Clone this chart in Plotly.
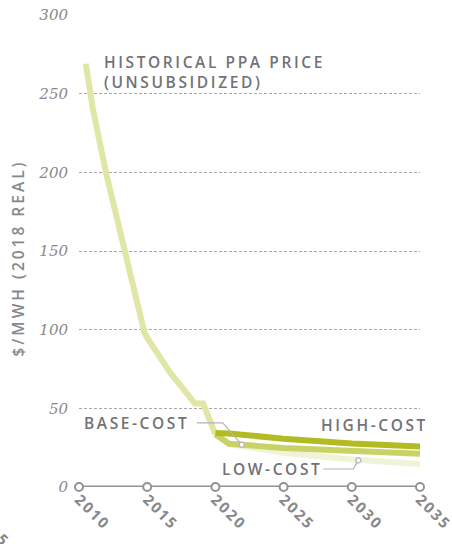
import plotly.graph_objects as go

# ---- data ----
hist_years = [2010.5, 2011, 2012, 2013, 2014, 2014.8, 2015.1, 2016.7, 2018.5, 2019.1, 2020]
hist_vals = [269, 241, 199, 162, 125, 98, 93.5, 72.5, 53, 53, 33.5]

fc_years = [2020, 2021, 2025, 2030, 2035]
high_vals = [34.3, 34.0, 30.7, 27.7, 25.8]
base_vals = [33.5, 27.5, 24.8, 22.6, 21.2]
low_vals = [33.5, 27.3, 21.8, 17.5, 14.6]

x_ticks = [2010, 2015, 2020, 2025, 2030, 2035]
y_ticks = [0, 50, 100, 150, 200, 250, 300]

C_HIST = "#dfe6a6"
C_LOW = "#eff3d8"
C_BASE = "#c9d265"
C_HIGH = "#b2bc22"
TXT = "#727276"
TICK = "#88888b"
AXIS = "#929295"
GRID = "#a9a9ab"
SANS = "Open Sans, Noto Sans, sans-serif"
LABEL_FONT = dict(family=SANS, size=15.5, color=TXT, weight=600)

fig = go.Figure()

# baseline axis with hollow circles
fig.add_trace(go.Scatter(
    x=x_ticks, y=[0] * len(x_ticks), mode="lines+markers",
    line=dict(color=AXIS, width=3),
    marker=dict(symbol="circle", size=8, color="white", line=dict(color=AXIS, width=2)),
    cliponaxis=False, hoverinfo="skip", showlegend=False))

fig.add_trace(go.Scatter(x=hist_years, y=hist_vals, mode="lines",
                         line=dict(color=C_HIST, width=6), showlegend=False, cliponaxis=False))
fig.add_trace(go.Scatter(x=fc_years, y=low_vals, mode="lines",
                         line=dict(color=C_LOW, width=6), showlegend=False, cliponaxis=False))
fig.add_trace(go.Scatter(x=fc_years, y=base_vals, mode="lines",
                         line=dict(color=C_BASE, width=6), showlegend=False, cliponaxis=False))
fig.add_trace(go.Scatter(x=fc_years, y=high_vals, mode="lines",
                         line=dict(color=C_HIGH, width=6), showlegend=False, cliponaxis=False))

# leader lines
LEAD = "#b4b4b6"
fig.add_shape(type="path", path="M 2018.63,40.7 L 2020.54,40.7 L 2021.93,26.9",
              line=dict(color=LEAD, width=1.2), layer="above")
fig.add_shape(type="path", path="M 2027.91,11.44 L 2030.11,11.44 L 2030.48,16.9",
              line=dict(color=LEAD, width=1.2), layer="above")
for cx, cy in [(2021.93, 26.9), (2030.48, 16.9)]:
    fig.add_shape(type="circle", xref="x", yref="y", xsizemode="pixel", ysizemode="pixel",
                  xanchor=cx, yanchor=cy, x0=-2.5, x1=2.5, y0=-2.5, y1=2.5,
                  line=dict(color=LEAD, width=1.2), fillcolor="white", layer="above")

# labels
def label(x, y, text):
    fig.add_annotation(x=x, y=y, xref="x", yref="y", xanchor="left", yanchor="middle",
                       text=text, showarrow=False, align="left", font=LABEL_FONT)

label(2011.66, 263.7, "HISTORICAL PPA PRICE<br>(UNSUBSIDIZED)")
label(2010.22, 40.4, "BASE-COST")
label(2027.6, 39.3, "HIGH-COST")
label(2020.34, 11.5, "LOW-COST")

# y-axis title
fig.add_annotation(x=-0.179, y=145.5, xref="paper", yref="y", textangle=-90,
                   xanchor="center", yanchor="middle", text="$/MWH (2018 REAL)",
                   showarrow=False, font=dict(family=SANS, size=15.5, color=TICK, weight=600))
# tail of neighbouring panel's tick label
fig.add_annotation(x=-0.255, y=-0.087, xref="paper", yref="paper", textangle=45,
                   xanchor="center", yanchor="middle", text="2035", showarrow=False,
                   font=dict(family=SANS, size=15, color=TICK, weight="bold"))

fig.update_layout(
    width=452, height=544,
    margin=dict(l=79, r=32, t=15, b=57, autoexpand=False),
    paper_bgcolor="white", plot_bgcolor="white",
    xaxis=dict(range=[2010, 2035], tickvals=x_ticks, ticktext=[str(v) for v in x_ticks],
               tickangle=45, showgrid=False, zeroline=False, showline=False, ticks="",
               automargin=False,
               tickfont=dict(family=SANS, size=15, color=TICK, weight="bold")),
    yaxis=dict(range=[0, 300], tickvals=y_ticks, showgrid=True, gridcolor=GRID, gridwidth=1,
               griddash="3px,2px", zeroline=False, showline=False, ticks="",
               ticklabelstandoff=10, automargin=False,
               tickfont=dict(family="DejaVu Serif", size=15, color=TICK, style="italic")),
)

post = """
document.body.style.margin = '0';
var gd = document.getElementById('{plot_id}');
gd.querySelectorAll('.annotation-text').forEach(function(t){
  if (t.textContent.indexOf('MWH') >= 0) { t.style.letterSpacing = '3px'; }
  else { t.style.letterSpacing = '2.6px'; }
});
gd.querySelectorAll('.xtick text').forEach(function(t){t.style.letterSpacing='2px';});
"""
fig.write_html("out.html", post_script=post, config={"displayModeBar": False})
